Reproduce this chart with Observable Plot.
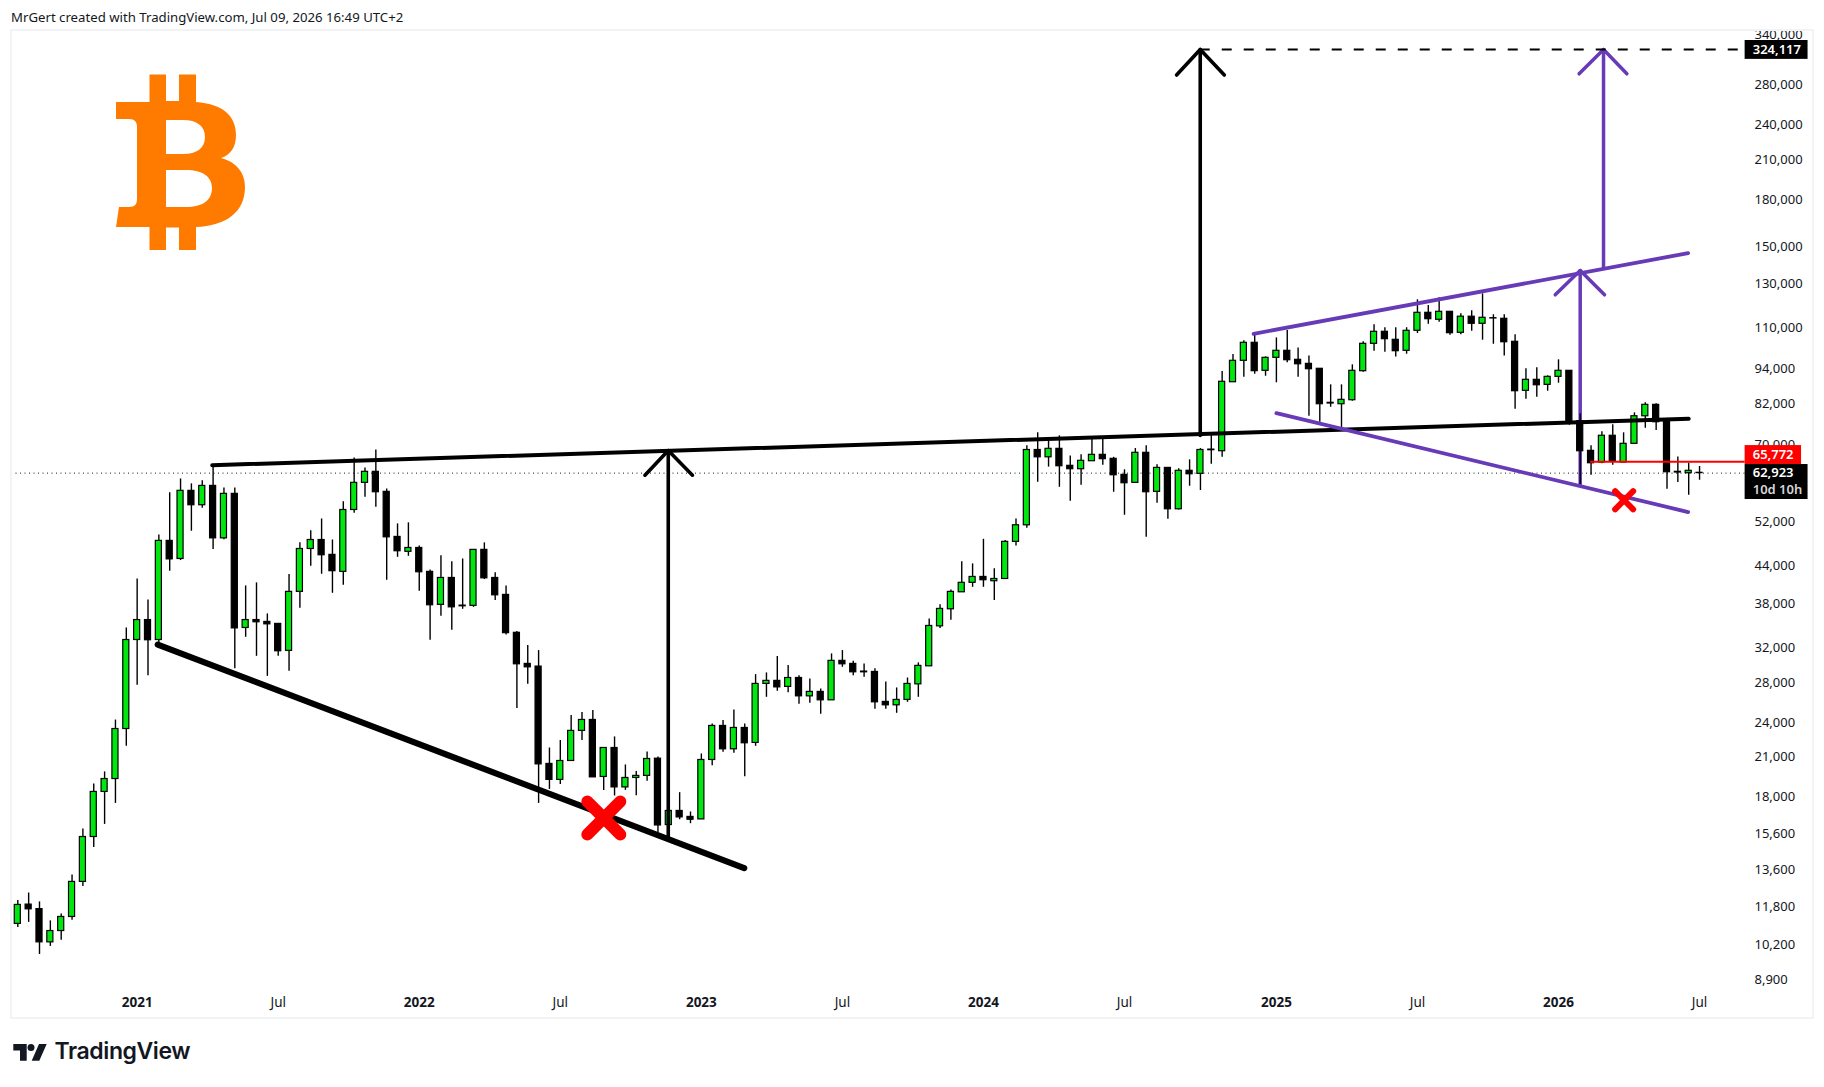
<!DOCTYPE html>
<html><head><meta charset="utf-8">
<style>
html,body{margin:0;padding:0;background:#fff;width:1824px;height:1087px;overflow:hidden}
.title{position:absolute;left:11px;top:8px;font:13.2px "Noto Sans",sans-serif;color:#131722;white-space:nowrap}
.brand{position:absolute;left:54.5px;top:1037px;font:600 23px Inter,sans-serif;color:#131722;letter-spacing:-.4px;white-space:nowrap}
.frame{position:absolute;left:10px;top:29px;width:1804px;height:990px;box-sizing:border-box;border:2px solid #f2f3f5;pointer-events:none}
#chart{position:absolute;left:0;top:29px}
.deco{position:absolute;left:0;top:0;pointer-events:none}
</style></head><body>
<script src="https://cdn.jsdelivr.net/npm/d3@7"></script>
<script src="https://cdn.jsdelivr.net/npm/@observablehq/plot@0.6"></script>
<div class="title">MrGert created with TradingView.com, Jul 09, 2026 16:49 UTC+2</div>
<div id="chart"></div>
<div class="frame"></div>
<svg class="deco" width="1824" height="1087">
<path fill="#ff7b00" fill-rule="evenodd" d="M116 102H149.5V74.5H166V101H179V74.5H196V102C222 104 236 115 236 135C236 148 230 155 221 158C236 162 245 172 245 187C245 212 226 226 196 227V250H179V227.5H166V250H149.5V227H116L119 207H129C135 207 137 204 137 199V127C137 122 135 119 129 119H116ZM166 120V154H183C197 154 205 148 205 137C205 126 197 120 183 120ZM166 170V207H186C203 207 212 200 212 188C212 177 203 170 186 170Z"/>
<path fill="#131722" d="M13.3 1044H26.7V1060.7H20V1050.5H13.3ZM46.7 1044L39.3 1060.7H31.7L39 1044Z"/><circle cx="31" cy="1047.5" r="3.5" fill="#131722"/>
</svg>
<div class="brand">TradingView</div>
<script>
const open_=[11070,11925,11720,10310,10770,11370,13015,15475,18410,19350,23465,33070,35715,33070,48460,45195,58770,55595,59900,48935,58090,34640,35715,35460,35190,31715,39810,46970,48625,45915,43005,54590,60610,63240,58545,49205,46460,47155,43005,37870,42005,37760,37720,46810,42005,39350,34000,30160,29850,20510,19285,20745,23295,24300,19505,21810,18735,19430,19585,20930,16205,17110,16720,16560,20825,23745,21700,23560,22240,27920,28250,27600,28565,26615,27075,26210,30515,30160,29280,29240,26050,25710,26250,27875,29880,34860,37225,39750,41225,42170,41480,41840,48280,51465,68795,66880,69100,64720,63880,65880,67520,66490,62500,60610,68050,58545,64205,54740,63490,62750,68900,68470,89330,97020,103990,93350,98140,100830,97390,95890,94080,82515,82070,83350,93210,103590,108500,105200,100830,108920,116740,113640,117190,108080,115000,111900,114340,114080,104400,86420,90160,88430,91200,93350,76860,68570,65550,72670,65550,70450,78350,81870,76860,63240,62900,63000];
const high=[12110,12470,12050,11200,11500,13365,15955,18985,19890,24290,34640,41840,38600,49595,58320,61530,60375,61080,64790,59430,59430,40740,41220,36570,35190,42555,48090,50370,52730,48625,56340,66720,64205,68795,59195,51745,51950,47525,43335,45770,44695,45195,46810,48090,42840,40740,34170,32365,31750,21810,22440,24710,25000,25190,21810,22760,20430,19915,21485,21070,17200,18360,17040,21315,23930,24240,25255,23930,28940,29130,31020,29965,28825,28465,27390,31345,31750,30470,30160,29590,28140,27490,28565,30280,35850,37870,40120,44695,44350,48760,43505,48520,52730,69900,73500,71540,72670,67250,67520,71820,71820,66880,63730,69180,69900,64970,64205,63990,66230,69180,72830,93100,99400,104790,108080,98520,105975,109040,101970,98840,94080,88430,88430,95520,104400,111470,110220,110220,110220,122740,120050,123690,117190,116300,117640,125600,115870,115870,107240,94080,94430,91550,97390,93350,79080,69900,73790,75800,73500,79380,82510,82190,76860,66980,65370,64550];
const low=[10920,11135,9840,10150,10390,11225,12790,14865,16245,17615,21950,27770,28825,32620,43115,44920,50295,54940,46895,48690,29610,33415,31055,28745,31055,29310,37360,43935,42605,39595,40840,53905,57320,55160,41640,45485,45665,39905,33040,36240,34345,37225,37510,41750,38500,33700,25405,27875,17615,18590,18955,20715,22440,19475,18520,18125,18520,18145,19180,15720,15560,16540,16290,16560,20370,21450,21365,19525,21950,26515,27135,26980,25810,25910,24830,26210,29765,28825,28635,25320,25320,24930,26010,26515,29880,34585,35680,39750,40520,40520,38500,41840,47530,50880,60750,64400,59580,56470,60050,65880,64870,58455,53490,60610,49130,56035,52670,54590,59820,58840,65120,66880,89330,91050,92130,91420,89130,96270,91050,78350,76570,81120,74650,83030,92850,100680,100300,98410,99520,107800,111730,112590,107070,107240,108750,105040,103410,98790,80500,83620,84290,86290,89000,75680,60210,62410,65220,64870,65550,70450,74820,74160,59130,60680,57780,61220];
const close_=[11910,11710,10310,10770,11370,13015,15475,18410,19350,23465,33070,35715,33040,48460,45125,58770,55595,59900,48935,58090,34585,35715,35410,35130,31665,39810,46970,48625,45845,43115,54590,60610,63240,58455,49130,46565,47155,42940,37810,42005,37510,37660,46810,41950,39290,33955,30115,29765,20475,19285,20745,23295,24300,19475,21810,18735,19430,19585,20905,16180,17110,16690,16540,20825,23745,21700,23560,22210,27920,28250,27550,28565,26615,27075,26210,30515,30115,29200,29200,26010,25710,26250,27920,29930,34910,37280,39810,41225,42170,41640,41840,48280,51465,68795,66880,69100,64615,63880,65980,67520,66400,62410,60520,68050,58455,64205,54740,63490,62650,68795,68730,89480,97020,103990,93210,98140,100830,97245,95740,93930,82070,82290,83470,93350,103590,108500,105450,100680,108920,116740,113900,117190,107910,115000,111900,114520,114220,104220,86290,90160,88290,91200,93350,76860,68470,65370,72670,65730,70450,78350,81870,76570,63140,63070,63490,62923];
const candles=open_.map((o,i)=>({i,o,h:high[i],l:low[i],c:close_[i]}));

const priceTicks=[340000,280000,240000,210000,180000,150000,130000,110000,94000,82000,70000,52000,44000,38000,32000,28000,24000,21000,18000,15600,13600,11800,10200,8900];
const yearTicks=[11,37,63,89,116,142];
const yearLabels=["2021","2022","2023","2024","2025","2026"];
const julTicks=[24,50,76,102,129,155];

const lastPrice=62923, redPrice=65772, targetLevel=322100;
const axisEnd=159.2, boxEnd=165, redBoxEnd=164.4;

const thickBlack=[[[17.92,64865],[154,77610]]];
const wedgeBlack=[[[12.9,32490],[66.95,13730]]];
const blackArrows=[
 [[59.95,15450],[59.95,68650]],[[57.8,62430],[59.95,68650],[62.18,62430]],
 [[108.98,72750],[108.98,targetLevel]],[[106.8,292000],[108.98,targetLevel],[111.2,292000]]
];
const purpleLines=[[[113.9,107650],[153.95,146950]],[[116,79270],[153.95,54160]]];
const purpleArrows=[
 [[144,60210],[144,137430]],[[141.7,125120],[144,137430],[146.24,125120]],
 [[146.15,139340],[146.15,targetLevel]],[[143.9,293350],[146.15,targetLevel],[148.3,293350]]
];
const redCrossBig=[[[52.49,17745],[55.53,15628]],[[55.53,17745],[52.49,15628]]];
const redCrossSmall=[[[147.22,58680],[148.88,54740]],[[148.88,58680],[147.22,54740]]];

const segs=a=>a.flatMap((s,k)=>s.map(p=>({x:p[0],y:p[1],k})));
const seg=(a,o)=>Plot.line(segs(a),{x:"x",y:"y",z:"k",strokeLinejoin:"round",...o});
const green="#00e60f", purple="#673ab7";

const plot=Plot.plot({
 width:1824,height:990,marginLeft:0,marginTop:0,marginRight:70,marginBottom:17,
 style:{background:"transparent",fontFamily:'"Noto Sans",sans-serif',overflow:"visible"},
 x:{type:"linear",domain:[0,155],range:[17.3,1699.05],axis:null},
 y:{type:"log",domain:[340000,8900],range:[6,951],axis:null},
 marks:[
  Plot.axisY(priceTicks,{anchor:"right",tickSize:0,tickPadding:0,label:null,textAnchor:"start",tickFormat:d3.format(","),fontSize:13,fill:"#131722",dy:-0.6}),
  Plot.axisX(yearTicks,{anchor:"bottom",tickSize:0,tickPadding:0,label:null,lineAnchor:"middle",tickFormat:d=>yearLabels[yearTicks.indexOf(d)],fontSize:13.5,fontWeight:"bold",fill:"#131722"}),
  Plot.axisX(julTicks,{anchor:"bottom",tickSize:0,tickPadding:0,label:null,lineAnchor:"middle",tickFormat:()=>"Jul",fontSize:13.5,fill:"#131722"}),
  Plot.ruleY([lastPrice],{x1:-0.58,x2:axisEnd,stroke:"#131722",strokeWidth:1,strokeDasharray:"1,3.5"}),
  seg(purpleArrows,{stroke:purple,strokeWidth:3.5}),
  Plot.ruleX(candles,{x:"i",y1:"l",y2:"h",stroke:"#000",strokeWidth:1.4}),
  Plot.rect(candles,{x1:d=>d.i-0.28,x2:d=>d.i+0.28,y1:"o",y2:"c",fill:d=>d.c>d.o?green:"#000",stroke:"#000",strokeWidth:1.2}),
  seg(thickBlack,{stroke:"#000",strokeWidth:4,strokeLinecap:"round"}),
  seg(wedgeBlack,{stroke:"#000",strokeWidth:6.2,strokeLinecap:"round"}),
  seg(blackArrows,{stroke:"#000",strokeWidth:3.6}),
  seg(purpleLines,{stroke:purple,strokeWidth:3.8,strokeLinecap:"round"}),
  seg(redCrossBig,{stroke:"#ff0000",strokeWidth:12,strokeLinecap:"round"}),
  seg(redCrossSmall,{stroke:"#ff0000",strokeWidth:6,strokeLinecap:"round"}),
  Plot.ruleY([targetLevel],{x1:108.98,x2:axisEnd,stroke:"#000",strokeWidth:2,strokeDasharray:"10,12"}),
  Plot.ruleY([redPrice],{x1:144.95,x2:axisEnd,stroke:"#ff0000",strokeWidth:2}),
  Plot.rect([0],{x1:axisEnd,x2:boxEnd,y1:333500,y2:310100,fill:"#000"}),
  Plot.rect([0],{x1:axisEnd,x2:redBoxEnd,y1:69975,y2:65045,fill:"#ff0000"}),
  Plot.rect([0],{x1:axisEnd,x2:boxEnd,y1:65045,y2:56840,fill:"#000"}),
  Plot.text(["324,117"],{x:159.9,y:targetLevel,textAnchor:"start",fill:"#fff",fontSize:13,fontWeight:"600"}),
  Plot.text(["65,772"],{x:159.9,y:67600,textAnchor:"start",fill:"#fff",fontSize:13,fontWeight:"600"}),
  Plot.text(["62,923"],{x:159.9,y:lastPrice,textAnchor:"start",fill:"#fff",fontSize:13,fontWeight:"600"}),
  Plot.text(["10d 10h"],{x:159.9,y:59070,textAnchor:"start",fill:"#d6d6d6",fontSize:13,fontWeight:"600"})
 ]
});
document.getElementById("chart").appendChild(plot);
</script>
</body></html>
